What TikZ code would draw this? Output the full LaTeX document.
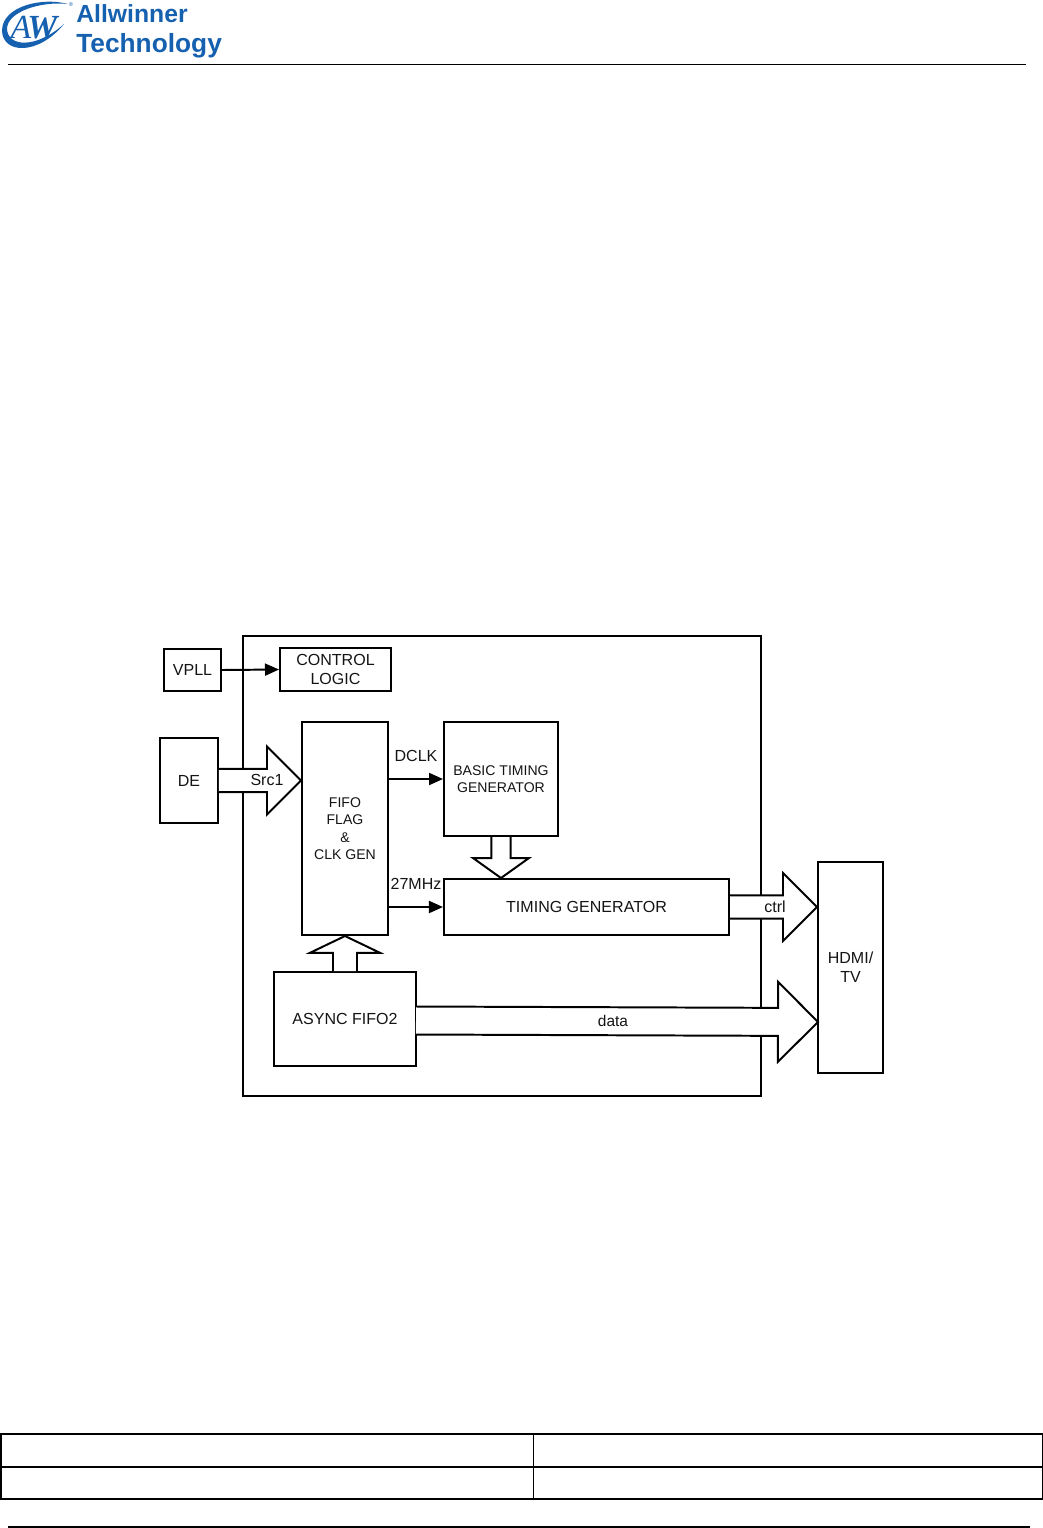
\documentclass[tikz,border=0pt]{standalone}
\usepackage{fontspec}
\setmainfont{Liberation Sans}
\newfontfamily\logoserif{Liberation Serif}
\usepackage{tikz}
\usetikzlibrary{arrows.meta,calc}
\definecolor{logoblue}{RGB}{22,96,176}
\definecolor{inkcolor}{RGB}{20,20,20}

% hollow arrow: from, to, half width, half head, head length
\newcommand{\hollowarrow}[5]{
  \coordinate (neck) at ($(#2)!#5!(#1)$);
  \draw[hollowline] ($(#1)!#3!90:(#2)$) -- ($(neck)!#3!-90:(#1)$) -- ($(neck)!#4!-90:(#1)$)
    -- (#2) -- ($(neck)!#4!90:(#1)$) -- ($(neck)!#3!90:(#1)$) -- ($(#1)!#3!-90:(#2)$);
}

\begin{document}
\begin{tikzpicture}[x=0.025cm, y=-0.025cm,
    every node/.style={font=\fontsize{11.4}{13.5}\selectfont, text=inkcolor, align=center},
    blockbox/.style={draw=black, line width=1.4pt, inner sep=0pt, fill=white},
    smallbox/.style={blockbox, font=\fontsize{10}{12.3}\selectfont},
    hollowline/.style={draw=black, line width=1.4pt, fill=white, line join=miter},
    thinarrow/.style={draw=black, line width=1.4pt, -{Triangle[length=0.35cm,width=0.3cm]}},
    rulerline/.style={draw=black, line width=0.9pt},
    logotext/.style={text=logoblue, anchor=base west, inner sep=0pt}]
  \useasboundingbox (0,0) rectangle (1043,1528);

  % Header
  \fill[logoblue] (68,4) .. controls (42,-3) and (3,6) .. (2,30)
    .. controls (2,54) and (38,56) .. (64,24)
    .. controls (36,49) and (8,47) .. (7,29)
    .. controls (7,12) and (40,1) .. (68,4) -- cycle;
  \node[font=\logoserif\itshape\fontsize{24}{24}\selectfont, text=logoblue, inner sep=0pt] (logoaw) at (34,28) {A\kern-0.12em{\bfseries W}};
  \node[font=\fontsize{4}{4}\selectfont, text=logoblue, inner sep=0pt] (logoreg) at (71,5) {®};
  \node[logotext, font=\fontsize{17.6}{18}\selectfont\bfseries] (logotop) at (76,22) {Allwinner};
  \node[logotext, font=\fontsize{18.7}{18}\selectfont\bfseries] (logobottom) at (76,52) {Technology};
  \draw[rulerline] (8,64.5) -- (1026,64.5);

  % Outer frame
  \node[draw=black, line width=1.4pt, inner sep=0pt, minimum width=12.95cm, minimum height=11.5cm] (frame) at (502,866) {};

  % Blocks
  \node[blockbox, minimum width=1.425cm, minimum height=1.05cm] (vpll) at (192.5,670) {VPLL};
  \node[blockbox, minimum width=2.775cm, minimum height=1.075cm] (control) at (335.5,669.5) {CONTROL\\LOGIC};
  \node[blockbox, minimum width=1.45cm, minimum height=2.125cm] (de) at (189,780.5) {DE};
  \node[smallbox, minimum width=2.15cm, minimum height=5.325cm] (fifo) at (345,828.5) {FIFO\\FLAG\\\&\\CLK GEN};
  \node[smallbox, minimum width=2.85cm, minimum height=2.85cm] (basic) at (501,779) {BASIC TIMING\\GENERATOR};
  \node[blockbox, minimum width=7.125cm, minimum height=1.4cm] (timing) at (586.5,907) {TIMING GENERATOR};
  \node[blockbox, minimum width=3.55cm, minimum height=2.35cm] (async) at (345,1019) {ASYNC FIFO2};
  \node[blockbox, minimum width=1.625cm, minimum height=5.275cm] (hdmi) at (850.5,967.5) {HDMI/\\TV};

  % Thin arrows
  \draw[thinarrow] (vpll.east) -- (control.west);
  \draw[thinarrow] (fifo.east |- basic.west) -- (basic.west);
  \draw[thinarrow] (fifo.east |- timing.west) -- (timing.west);

  % Hollow arrows
  \coordinate (srctip) at (fifo.west |- de.east);
  \coordinate (downtip) at (basic.south |- timing.north);
  \coordinate (uptip) at (async.north |- fifo.south);
  \coordinate (ctrltip) at (hdmi.west |- timing.east);
  \coordinate (datatail) at (416,1020.5);
  \coordinate (datatip) at (818,1022);
  \hollowarrow{de.east}{srctip}{0.29cm}{0.85cm}{0.85cm}
  \hollowarrow{basic.south}{downtip}{0.24cm}{0.7cm}{0.5cm}
  \hollowarrow{async.north}{uptip}{0.3cm}{0.875cm}{0.42cm}
  \hollowarrow{timing.east}{ctrltip}{0.29cm}{0.85cm}{0.85cm}
  \hollowarrow{datatail}{datatip}{0.35cm}{1cm}{1cm}

  % Labels
  \node[inner sep=0pt] (srclabel) at (267,780) {Src1};
  \node[inner sep=0pt] (ctrllabel) at (775,907) {ctrl};
  \node[inner sep=0pt, font=\fontsize{11}{12}\selectfont] (datalabel) at (613,1020.5) {data};
  \node[inner sep=0pt] (dclklabel) at (416,756) {DCLK};
  \node[inner sep=0pt] (mhzlabel) at (416,884) {27MHz};

  % Footer table
  \draw[rulerline] (1,1434) rectangle (1042.5,1499);
  \draw[rulerline] (1,1467) -- (1042.5,1467);
  \draw[draw=black, line width=0.5pt] (533,1434) -- (533,1499);
  \draw[rulerline] (8,1527) -- (1030,1527);
\end{tikzpicture}
\end{document}
